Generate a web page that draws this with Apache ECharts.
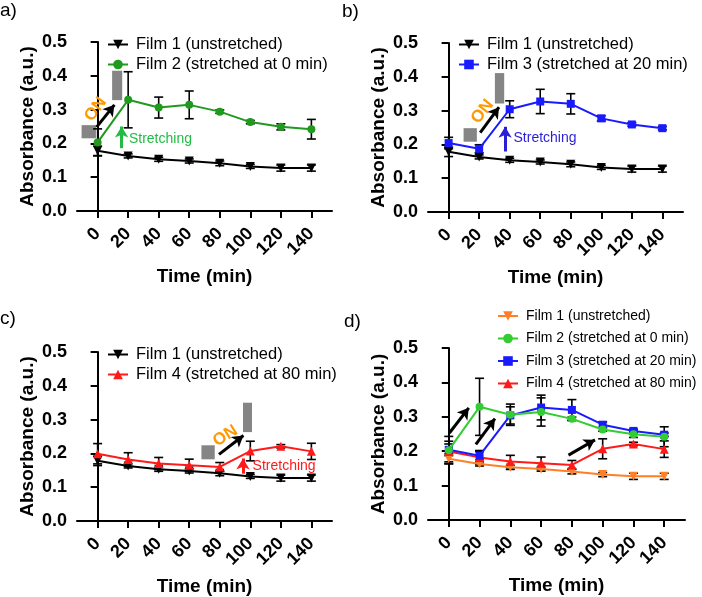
<!DOCTYPE html>
<html><head><meta charset="utf-8">
<script src="https://cdn.jsdelivr.net/npm/echarts@6/dist/echarts.min.js"></script>
<style>html,body{margin:0;padding:0;background:#fff}#c{width:702px;height:597px}</style>
</head><body><div id="c"></div>
<script>
// ---- data ----
const times = [0, 20, 40, 60, 80, 100, 120, 140];
const xTicks = [0, 20, 40, 60, 80, 100, 120, 140];
const film1 = [0.178, 0.163, 0.153, 0.148, 0.141, 0.132, 0.127, 0.127];
const film1Err = [0.014, 0.006, 0.006, 0.006, 0.007, 0.006, 0.009, 0.009];
const film2 = [0.203, 0.329, 0.306, 0.314, 0.294, 0.263, 0.249, 0.242];
const film2Err = [0.040, 0.083, 0.031, 0.041, 0.005, 0.005, 0.009, 0.029];
const film3 = [0.204, 0.187, 0.304, 0.327, 0.320, 0.277, 0.259, 0.248];
const film3Err = [0.017, 0.012, 0.025, 0.036, 0.030, 0.008, 0.005, 0.005];
const film4 = [0.199, 0.182, 0.170, 0.165, 0.160, 0.207, 0.221, 0.206];
const film4Err = [0.030, 0.020, 0.018, 0.018, 0.013, 0.029, 0.005, 0.024];
const name1 = 'Film 1 (unstretched)';
const name2 = 'Film 2 (stretched at 0 min)';
const name3 = 'Film 3 (stretched at 20 min)';
const name4 = 'Film 4 (stretched at 80 min)';
const panelLabels = ['a)', 'b)', 'c)', 'd)'];

const F = '"Liberation Sans", Arial, Helvetica, sans-serif';
const BLACK = '#000';
const GREEN_A = '#1f9a1f', GREEN_D = '#33cc33';
const BLUE = '#1a1aff', RED = '#ff1a1a', ORANGE = '#ff7f27';

function errSeries(gi, vals, errs, z) {
  return {
    type: 'custom', xAxisIndex: gi, yAxisIndex: gi, z: z || 2, silent: true,
    data: times.map((t, i) => [t, vals[i] - errs[i], vals[i] + errs[i]]),
    encode: { x: 0, y: [1, 2] },
    renderItem: (params, api) => {
      const x = api.value(0);
      const lo = api.coord([x, api.value(1)]);
      const hi = api.coord([x, api.value(2)]);
      const w = 4.5, st = { stroke: '#000', lineWidth: 1.6 };
      return { type: 'group', children: [
        { type: 'line', shape: { x1: lo[0], y1: lo[1], x2: hi[0], y2: hi[1] }, style: st },
        { type: 'line', shape: { x1: lo[0] - w, y1: lo[1], x2: lo[0] + w, y2: lo[1] }, style: st },
        { type: 'line', shape: { x1: hi[0] - w, y1: hi[1], x2: hi[0] + w, y2: hi[1] }, style: st }
      ]};
    }
  };
}
function lineSeries(name, gi, vals, color, symbol, size, rot, z) {
  return {
    type: 'line', name: name, xAxisIndex: gi, yAxisIndex: gi, z: z || 3,
    data: times.map((t, i) => [t, vals[i]]),
    symbol: symbol, symbolSize: size, symbolRotate: rot || 0, showSymbol: true,
    itemStyle: { color: color }, lineStyle: { color: color, width: 2 }
  };
}
function xAxis(gi) {
  return {
    type: 'value', gridIndex: gi, min: -13.5, max: 153.5,
    name: 'Time (min)', nameLocation: 'middle', nameGap: 56,
    nameTextStyle: { fontSize: 19, fontWeight: 'bold', color: BLACK, fontFamily: F },
    axisLine: { show: true, onZero: false, lineStyle: { color: BLACK, width: 2 } },
    axisTick: { show: true, length: 7, lineStyle: { color: BLACK, width: 2 }, customValues: xTicks },
    axisLabel: { customValues: xTicks, rotate: 45, margin: 20, fontSize: 18, fontWeight: 'bold', color: BLACK, fontFamily: F },
    splitLine: { show: false }
  };
}
function yAxis(gi) {
  return {
    type: 'value', gridIndex: gi, min: 0, max: 0.5, interval: 0.1,
    name: 'Absorbance (a.u.)', nameLocation: 'middle', nameGap: 40,
    nameTextStyle: { fontSize: 19, fontWeight: 'bold', color: BLACK, fontFamily: F },
    axisLine: { show: true, lineStyle: { color: BLACK, width: 2 } },
    axisTick: { show: true, length: 7, lineStyle: { color: BLACK, width: 2 } },
    axisLabel: { formatter: v => v.toFixed(1), margin: 10, fontSize: 18, fontWeight: 'bold', color: BLACK, fontFamily: F },
    splitLine: { show: false }
  };
}
function legend(left, top, names, fs, gap) {
  return {
    orient: 'vertical', left: left, top: top, padding: 0, itemWidth: 20, itemHeight: 12, itemGap: gap,
    selectedMode: false, data: names,
    formatter: n => n.split('|')[1],
    textStyle: { fontSize: fs, color: BLACK, fontFamily: F, padding: [0, 0, 0, 3] }
  };
}
function arrow(p1, p2, color, w) {
  return [{ coord: p1, lineStyle: { color: color, width: w, type: 'solid' } }, { coord: p2 }];
}
function rect(p1, p2) { return [{ coord: p1 }, { coord: p2 }]; }
function onText(p, rot) {
  return { coord: p, label: { show: true, formatter: 'ON', rotate: rot, position: 'inside', color: '#ff9900', fontWeight: 'bold', fontSize: 17, fontFamily: F } };
}
function stretchText(p, color) {
  return { coord: p, label: { show: true, formatter: 'Stretching', position: 'right', distance: 0, color: color, fontSize: 14, fontFamily: F } };
}
function markers(rects, arrows, points) {
  return {
    markArea: { silent: true, itemStyle: { color: '#858585' }, label: { show: false }, data: rects },
    markLine: { silent: true, symbol: ['none', 'arrow'], symbolSize: [10, 11], label: { show: false }, data: arrows },
    markPoint: { silent: true, symbol: 'circle', symbolSize: 0, data: points }
  };
}

// annotation positions (data coordinates)
const annA = markers(
  [rect([-10.5, 0.215], [-1.1, 0.254]), rect([9.5, 0.328], [16.1, 0.415])],
  [arrow([-0.7, 0.248], [11.0, 0.314], BLACK, 3), arrow([15.7, 0.186], [15.7, 0.250], '#22bb44', 3)],
  [onText([-1.3, 0.301], 54), stretchText([20.5, 0.212], '#22bb44')]
);
const annB = markers(
  [rect([9.8, 0.208], [18.5, 0.248]), rect([30.3, 0.321], [36.4, 0.411])],
  [arrow([20.7, 0.235], [33.0, 0.310], BLACK, 3), arrow([37.0, 0.179], [37.0, 0.252], '#2a1fd6', 3)],
  [onText([22.2, 0.297], 52), stretchText([42.5, 0.2185], '#2a1fd6')]
);
const annC = markers(
  [rect([68, 0.1825], [76.7, 0.224]), rect([95.2, 0.263], [101.1, 0.350])],
  [arrow([79.5, 0.197], [95.5, 0.253], BLACK, 3), arrow([95.2, 0.140], [95.2, 0.185], RED, 3)],
  [onText([83.7, 0.2515], 32), stretchText([101.5, 0.163], RED)]
);
const annD = {
  markLine: { silent: true, symbol: ['none', 'arrow'], symbolSize: [10, 11], label: { show: false },
    data: [arrow([0.4, 0.253], [13.0, 0.326], BLACK, 3), arrow([17.6, 0.220], [30.0, 0.295], BLACK, 3), arrow([77.8, 0.1886], [95.0, 0.233], BLACK, 3)] }
};

const series = [
  // panel a
  errSeries(0, film1, film1Err), errSeries(0, film2, film2Err),
  lineSeries('a|' + name1, 0, film1, BLACK, 'triangle', 9, 180),
  Object.assign(lineSeries('a|' + name2, 0, film2, GREEN_A, 'circle', 8), annA),
  // panel b
  errSeries(1, film1, film1Err), errSeries(1, film3, film3Err),
  lineSeries('b|' + name1, 1, film1, BLACK, 'triangle', 9, 180),
  Object.assign(lineSeries('b|' + name3, 1, film3, BLUE, 'rect', 8), annB),
  // panel c
  errSeries(2, film1, film1Err), errSeries(2, film4, film4Err),
  lineSeries('c|' + name1, 2, film1, BLACK, 'triangle', 9, 180),
  Object.assign(lineSeries('c|' + name4, 2, film4, RED, 'triangle', 9), annC),
  // panel d
  errSeries(3, film1, film1Err), errSeries(3, film2, film2Err), errSeries(3, film3, film3Err), errSeries(3, film4, film4Err),
  lineSeries('d|' + name1, 3, film1, ORANGE, 'triangle', 9, 180, 3),
  lineSeries('d|' + name4, 3, film4, RED, 'triangle', 9, 0, 4),
  Object.assign(lineSeries('d|' + name3, 3, film3, BLUE, 'rect', 8, 0, 5), annD),
  lineSeries('d|' + name2, 3, film2, GREEN_D, 'circle', 8, 0, 6)
];

const option = {
  animation: false,
  backgroundColor: '#fff',
  title: panelLabels.map((t, i) => ({
    text: t, left: [0, 342, 0, 344][i], top: [1, 2, 309, 312][i], padding: 0,
    textStyle: { fontSize: 19, fontWeight: 'normal', color: BLACK, fontFamily: F }
  })),
  grid: [
    { left: 77, top: 42, width: 255, height: 169 },
    { left: 428, top: 43, width: 255, height: 169 },
    { left: 77, top: 352, width: 255, height: 169 },
    { left: 428, top: 348, width: 257, height: 172 }
  ],
  xAxis: [xAxis(0), xAxis(1), xAxis(2), xAxis(3)],
  yAxis: [yAxis(0), yAxis(1), yAxis(2), yAxis(3)],
  legend: [
    legend(107, 36, ['a|' + name1, 'a|' + name2], 16.5, 3),
    legend(458, 36, ['b|' + name1, 'b|' + name3], 16.5, 3),
    legend(107, 346, ['c|' + name1, 'c|' + name4], 16.5, 3),
    legend(497, 309, ['d|' + name1, 'd|' + name2, 'd|' + name3, 'd|' + name4], 14, 8.5)
  ],
  series: series
};
const chart = echarts.init(document.getElementById('c'), null, { renderer: 'canvas' });
chart.setOption(option);
</script>
</body></html>
